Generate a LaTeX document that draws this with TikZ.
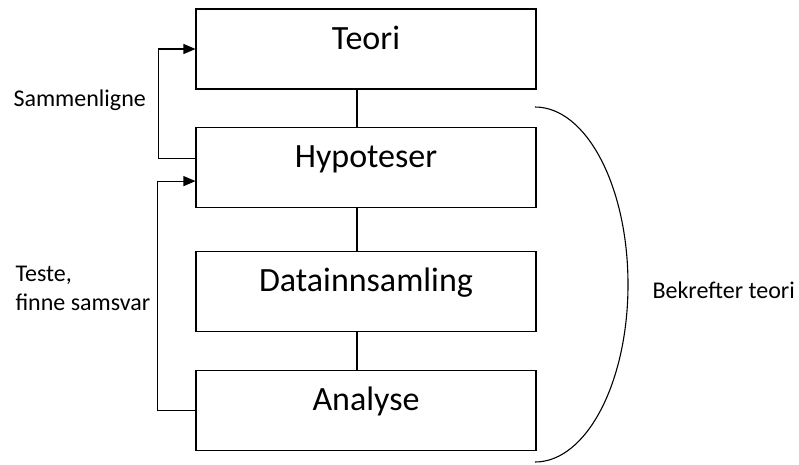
\documentclass[tikz,border=0pt]{standalone}
\usepackage{fontspec}
\setmainfont{Carlito}
\usetikzlibrary{arrows.meta, positioning}

\begin{document}
\begin{tikzpicture}[x=1pt, y=-1pt, >={Triangle[length=12pt,width=10pt]}, line width=1.1pt,
  box/.style={rectangle, draw, minimum width=340pt, inner xsep=0pt, inner ysep=0pt, text height=40pt, text depth=40pt, font=\fontsize{34}{38}\selectfont},
  side/.style={font=\fontsize{24}{29}\selectfont, align=left, inner sep=0pt}]

\useasboundingbox (0,0) rectangle (799,464);

% Nodes
\node[box] (teori) at (366,49) {Teori};
\node[box, below=37pt of teori] (hyp) {Hypoteser};
\node[box, below=43pt of hyp] (data) {Datainnsamling};
\node[box, below=38pt of data] (analyse) {Analyse};

% Edges
\draw ([xshift=-9pt]teori.south) -- ([xshift=-9pt]hyp.north);
\draw ([xshift=-9pt]hyp.south) -- ([xshift=-9pt]data.north);
\draw ([xshift=-9pt]data.south) -- ([xshift=-9pt]analyse.north);
\draw[->] ([yshift=9pt]hyp.west) -- ++(-37,0) |- (teori.west);
\draw[->] (analyse.west) -- ++(-38,0) |- ([yshift=-14pt]hyp.west);

% Bracket
\coordinate (btop) at (535,107);
\draw (btop) arc[start angle=90, end angle=-90, x radius=93pt, y radius=177.5pt];

% Labels
\node[side, anchor=west] (saml) at (13,100) {Sammenligne};
\node[side, anchor=west] (test) at (15,288) {Teste,\\finne samsvar};
\node[side, anchor=west] (bekr) at (652,290) {Bekrefter teori};

\end{tikzpicture}
\end{document}
